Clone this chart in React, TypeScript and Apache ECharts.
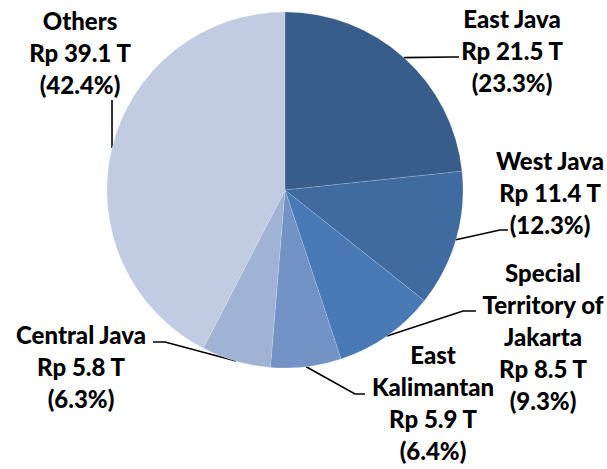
import React, { useEffect, useRef } from "react";
import * as echarts from "echarts";

const categories = ["East Java", "West Java", "Special Territory of Jakarta", "East Kalimantan", "Central Java", "Others"];
const labelNames = ["East Java", "West Java", "Special\nTerritory of\nJakarta", "East\nKalimantan", "Central Java", "Others"];
const valuesRpT = [21.5, 11.4, 8.5, 5.9, 5.8, 39.1];
const percents = [23.3, 12.3, 9.3, 6.4, 6.3, 42.4];
const colors = ["#395D8A", "#406BA1", "#4A7AB6", "#7393C6", "#A1B3D5", "#C1CCE2"];

// label layout: center of text block, elbow point and end of leader line
const labelLayoutCfg = [
  { x: 512, y: 50, elbow: [452, 57], end: [459, 57] },
  { x: 550, y: 192, elbow: [500, 230], end: [508, 230] },
  { x: 543, y: 336, elbow: [463, 311], end: [476, 311] },
  { x: 433, y: 402, elbow: [355, 394], end: [365, 394] },
  { x: 81, y: 366, elbow: [165, 342], end: [153, 342] },
  { x: 80, y: 52, elbow: [112, 110], end: [112, 100] },
];

export default function App() {
  const ref = useRef<HTMLDivElement>(null);
  useEffect(() => {
    if (!ref.current) return;
    const chart = echarts.init(ref.current, null, { renderer: "svg" });
    chart.setOption({
      animation: false,
      backgroundColor: "#ffffff",
      series: [
        {
          type: "pie",
          center: [285, 190],
          radius: 178,
          startAngle: 90,
          clockwise: true,
          avoidLabelOverlap: false,
          data: categories.map((c, i) => ({
            name: c,
            value: valuesRpT[i],
            itemStyle: { color: colors[i] },
            label: {
              formatter: `${labelNames[i]}\nRp ${valuesRpT[i].toFixed(1)} T\n(${percents[i].toFixed(1)}%)`,
            },
          })),
          itemStyle: { borderColor: "rgba(255,255,255,0.3)", borderWidth: 0.5 },
          label: {
            show: true,
            position: "outside",
            color: "#000",
            fontFamily: "Lato",
            fontWeight: 900,
            fontSize: 24,
            lineHeight: 32,
            align: "center",
          },
          labelLine: {
            show: true,
            length: 10,
            length2: 10,
            lineStyle: { color: "#000", width: 1.6 },
          },
          labelLayout: (params: any) => {
            const cfg = labelLayoutCfg[params.dataIndex];
            const pts = params.labelLinePoints;
            const p0 = pts ? pts[0] : cfg.elbow;
            return {
              x: cfg.x,
              y: cfg.y,
              align: "center",
              verticalAlign: "middle",
              labelLinePoints: [p0, cfg.elbow, cfg.end],
            };
          },
          emphasis: { disabled: true },
        },
      ],
    });
    return () => chart.dispose();
  }, []);
  return (
    <div
      ref={ref}
      style={{ position: "fixed", left: 0, top: 0, width: 607, height: 469 }}
    />
  );
}
